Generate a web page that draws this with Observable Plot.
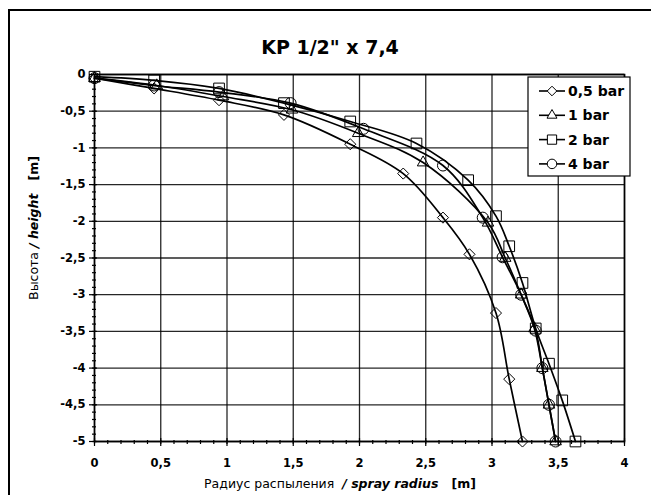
<!DOCTYPE html>
<html><head><meta charset="utf-8">
<script src="https://cdn.jsdelivr.net/npm/d3@7"></script>
<script src="https://cdn.jsdelivr.net/npm/@observablehq/plot@0.6"></script>
<style>
body{margin:0;background:#fff;}
#wrap{position:relative;width:651px;height:495px;overflow:hidden;background:#fff;}
#frame{position:absolute;left:8px;top:9px;width:700px;height:600px;border:2px solid #000;box-sizing:border-box;pointer-events:none;}
#wrap svg{position:absolute;left:0;top:0;}
</style></head><body><div id="wrap"><div id="frame"></div></div>
<script>
const titleText = "KP 1/2\" x 7,4";
const seriesNames = ["0,5 bar", "1 bar", "2 bar", "4 bar"];
const seriesSymbols = ["diamond2", "triangle2", "square2", "circle"];

const radius05 = [0, 0.45, 0.94, 1.43, 1.93, 2.33, 2.63, 2.83, 3.03, 3.13, 3.23];
const height05 = [-0.05, -0.19, -0.35, -0.55, -0.95, -1.35, -1.95, -2.45, -3.25, -4.15, -5];

const radius1 = [0, 0.47, 0.97, 1.49, 1.99, 2.48, 2.97, 3.1, 3.22, 3.32, 3.38, 3.43, 3.48];
const height1 = [-0.05, -0.15, -0.3, -0.48, -0.8, -1.2, -2.02, -2.5, -3.0, -3.46, -4.0, -4.5, -5];

const radius2 = [0, 0.45, 0.94, 1.43, 1.93, 2.43, 2.82, 3.03, 3.13, 3.23, 3.33, 3.43, 3.53, 3.63];
const height2 = [-0.03, -0.08, -0.19, -0.39, -0.64, -0.94, -1.44, -1.93, -2.34, -2.84, -3.46, -3.94, -4.44, -5];

const radius4 = [0, 0.45, 0.94, 1.48, 2.03, 2.63, 2.93, 3.08, 3.22, 3.33, 3.38, 3.43, 3.48];
const height4 = [-0.05, -0.15, -0.24, -0.39, -0.74, -1.24, -1.95, -2.49, -3.0, -3.49, -4.0, -4.5, -5];

const xTicks = [0, 0.5, 1, 1.5, 2, 2.5, 3, 3.5, 4];
const yTicks = [0, -0.5, -1, -1.5, -2, -2.5, -3, -3.5, -4, -4.5, -5];
const xMinor = d3.range(0, 41).map(i => i / 10);
const yMinor = d3.range(0, 51).map(i => -i / 10);

const radii = [radius05, radius1, radius2, radius4];
const heights = [height05, height1, height2, height4];
const data = [];
seriesNames.forEach((name, i) => radii[i].forEach((x, j) => data.push({series: name, x, y: heights[i][j], sym: seriesSymbols[i]})));

const fmt = d => String(d).replace(".", ",");
const font = "'DejaVu Sans', Verdana, sans-serif";
const markerR = {diamond2: 5, triangle2: 5.5, square2: 6.8, circle: 5.5};

const dotMarks = seriesSymbols.map(s => Plot.dot(data.filter(d => d.sym === s),
  {x: "x", y: "y", symbol: "sym", r: markerR[s], stroke: "#000", strokeWidth: 1, fill: "none"}));

const plot = Plot.plot({
  width: 651, height: 495,
  marginLeft: 94, marginRight: 27, marginTop: 74, marginBottom: 54,
  x: {domain: [0, 4]},
  y: {domain: [-5, 0]},
  style: {fontFamily: font, fontSize: "11.5px", fontWeight: "bold", color: "#000", background: "transparent"},
  marks: [
    Plot.gridX(xTicks, {stroke: "#000", strokeOpacity: 0.85, strokeWidth: 1.3}),
    Plot.gridY(yTicks, {stroke: "#000", strokeOpacity: 0.85, strokeWidth: 1.3}),
    Plot.frame({stroke: "#000", strokeWidth: 1.6}),
    Plot.axisX(xMinor, {tickSize: 4, dy: -1, text: null, label: null, strokeWidth: 1.2}),
    Plot.axisX(xTicks, {tickSize: 8, dy: -3, text: null, label: null, strokeWidth: 1.2}),
    Plot.axisX(xTicks, {tickSize: 0, tickPadding: 17, tickFormat: fmt, label: null, fontFamily: font, fontWeight: "bold", fontSize: 11.5}),
    Plot.axisY(yMinor, {tickSize: 4, dx: 2, text: null, label: null, strokeWidth: 1.2}),
    Plot.axisY(yTicks, {tickSize: 8, dx: 3, text: null, label: null, strokeWidth: 1.2}),
    Plot.axisY(yTicks, {tickSize: 0, tickPadding: 9, tickFormat: fmt, label: null, fontFamily: font, fontWeight: "bold", fontSize: 11.5}),
    Plot.line(data, {x: "x", y: "y", z: "series", curve: "catmull-rom", stroke: "#000", strokeWidth: 1.7}),
    ...dotMarks
  ]
});
document.getElementById("wrap").appendChild(plot);

const svg = d3.select(plot);
svg.append("text").attr("x", 330).attr("y", 54).attr("text-anchor", "middle")
  .style("font-family", font).style("font-size", "19px").style("font-weight", "bold").text(titleText);

const xl = svg.append("text").attr("x", 340).attr("y", 488).attr("text-anchor", "middle")
  .style("font-family", font).style("font-size", "12.5px").style("white-space", "pre").attr("xml:space", "preserve");
xl.append("tspan").style("font-weight", "normal").text("Радиус распыления  ");
xl.append("tspan").style("font-weight", "bold").style("font-style", "italic").text("/ spray radius");
xl.append("tspan").style("font-weight", "bold").text("   [m]");

const yl = svg.append("text").attr("transform", "translate(38,228) rotate(-90)").attr("text-anchor", "middle")
  .style("font-family", font).style("font-size", "12.5px").style("white-space", "pre").attr("xml:space", "preserve");
yl.append("tspan").style("font-weight", "normal").text("Высота ");
yl.append("tspan").style("font-weight", "bold").style("font-style", "italic").text("/ height");
yl.append("tspan").style("font-weight", "bold").text("   [m]");

// legend
const symMap = {diamond2: d3.symbolDiamond2, triangle2: d3.symbolTriangle2, square2: d3.symbolSquare2, circle: d3.symbolCircle};
const lg = svg.append("g");
lg.append("rect").attr("x", 528).attr("y", 77).attr("width", 102).attr("height", 99)
  .attr("fill", "#fff").attr("stroke", "#000").attr("stroke-width", 1.2);
seriesNames.forEach((name, i) => {
  const cy = 91 + i * 24.3;
  const s = seriesSymbols[i];
  lg.append("line").attr("x1", 539).attr("x2", 565).attr("y1", cy).attr("y2", cy).attr("stroke", "#000").attr("stroke-width", 1.6);
  lg.append("path").attr("transform", `translate(552,${cy})`)
    .attr("d", d3.symbol(symMap[s], Math.PI * markerR[s] * markerR[s] * 0.75)())
    .attr("fill", "#fff").attr("stroke", "#000").attr("stroke-width", 1);
  lg.append("text").attr("x", 568).attr("y", cy + 5).attr("text-anchor", "start")
    .style("font-family", font).style("font-size", "14px").style("font-weight", "bold").text(name);
});
</script>
</body></html>
